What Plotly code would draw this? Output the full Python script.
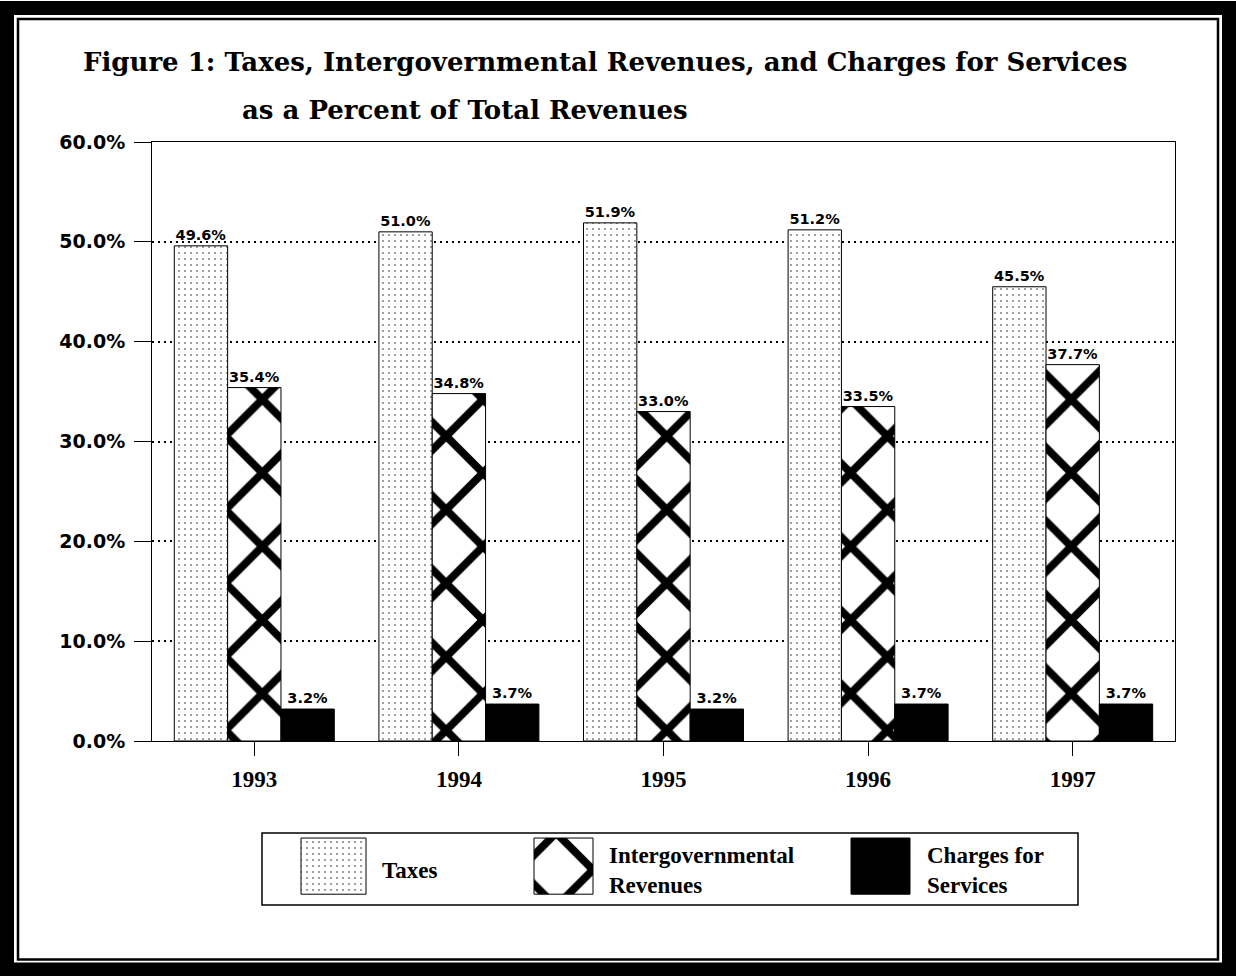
import plotly.graph_objects as go

W, H = 1236, 976

years = ["1993", "1994", "1995", "1996", "1997"]
taxes = [49.6, 51.0, 51.9, 51.2, 45.5]
intergov = [35.4, 34.8, 33.0, 33.5, 37.7]
charges = [3.2, 3.7, 3.2, 3.7, 3.7]
series_names = ["Taxes", "Intergovernmental<br>Revenues", "Charges for<br>Services"]
y_ticks = [0, 10, 20, 30, 40, 50, 60]
y_tick_text = [f"{v:.1f}%" for v in y_ticks]

def px(x):
    return x / W

def py(y):
    return 1 - y / H

patterns = [
    dict(shape=".", size=6, solidity=0.1, fgcolor="#888", bgcolor="white", fillmode="replace"),
    dict(shape="x", size=52, solidity=0.28, fgcolor="black", bgcolor="white", fillmode="replace"),
    dict(shape="", fgcolor="black", bgcolor="black"),
]
colors = ["white", "white", "black"]
label_font = dict(family="DejaVu Sans", size=14.5, color="black", weight="bold")

fig = go.Figure()
for vals, pat, col in zip([taxes, intergov, charges], patterns, colors):
    fig.add_trace(go.Bar(
        x=years, y=vals,
        marker=dict(color=col, pattern=pat, line=dict(color="black", width=1)),
        texttemplate="%{y:.1f}%", textposition="outside", textfont=label_font,
        constraintext="none", cliponaxis=False, showlegend=False,
        hoverinfo="skip",
    ))

# legend swatches (layout only) on a small hidden axis
sw_x = [333.5, 563.5, 880.5]
sw_w = [65, 59, 59]
for i in range(3):
    fig.add_trace(go.Bar(
        x=[sw_x[i]], y=[0.78], base=[0.15], width=[sw_w[i]],
        marker=dict(color=colors[i], pattern=patterns[i], line=dict(color="black", width=1)),
        xaxis="x2", yaxis="y2", showlegend=False, hoverinfo="skip",
    ))

fig.update_layout(
    width=W, height=H,
    margin=dict(l=0, r=0, t=0, b=0, pad=0, autoexpand=False),
    paper_bgcolor="white", plot_bgcolor="white",
    barmode="group", bargap=0.218, bargroupgap=0,
    xaxis=dict(
        domain=[px(152), px(1175)], automargin=False,
        showline=True, mirror=True, linecolor="black", linewidth=1,
        ticks="outside", ticklen=14, tickcolor="black", tickwidth=1,
        tickfont=dict(family="Liberation Serif", size=23, color="black", weight="bold"),
        ticklabelstandoff=3,
        showgrid=False, zeroline=False,
    ),
    yaxis=dict(
        domain=[py(741), py(142)], automargin=False,
        range=[0, 60], tickvals=y_ticks, ticktext=y_tick_text,
        showline=True, mirror=True, linecolor="black", linewidth=1,
        ticks="outside", ticklen=17, tickcolor="black", tickwidth=1,
        tickfont=dict(family="DejaVu Sans", size=19, color="black", weight="bold"),
        ticklabelstandoff=5,
        showgrid=True, gridcolor="black", gridwidth=1.5, griddash="2px,4px",
        zeroline=False,
    ),
    xaxis2=dict(domain=[px(262), px(1078)], range=[262, 1078], visible=False, anchor="y2",
                automargin=False),
    yaxis2=dict(domain=[py(905), py(833)], range=[0, 1], visible=False, anchor="x2",
                automargin=False),
)

shapes = [
    dict(type="rect", xref="paper", yref="paper", x0=px(7), x1=px(1229), y0=py(8), y1=py(969.5),
         line=dict(color="black", width=14), fillcolor="rgba(0,0,0,0)", layer="above"),
    dict(type="rect", xref="paper", yref="paper", x0=px(18), x1=px(1218), y0=py(19), y1=py(959.5),
         line=dict(color="black", width=2.5), fillcolor="rgba(0,0,0,0)", layer="above"),
    dict(type="rect", xref="paper", yref="paper", x0=px(262), x1=px(1078), y0=py(833), y1=py(905),
         line=dict(color="black", width=1.5), fillcolor="rgba(0,0,0,0)", layer="below"),
]
fig.update_layout(shapes=shapes)

title_font = dict(family="DejaVu Serif", size=26, color="black", weight="bold")
fig.add_annotation(text="Figure 1: Taxes, Intergovernmental Revenues, and Charges for Services",
                   xref="paper", yref="paper", x=px(605), y=py(62), xanchor="center", yanchor="middle",
                   showarrow=False, font=title_font)
fig.add_annotation(text="as a Percent of Total Revenues",
                   xref="paper", yref="paper", x=px(240), y=py(110), xanchor="left", yanchor="middle",
                   showarrow=False, font=title_font)

leg_font = dict(family="Liberation Serif", size=23, color="black", weight="bold")
leg_x = [380, 607, 925]
for name, lx in zip(series_names, leg_x):
    fig.add_annotation(text=name, xref="paper", yref="paper", x=px(lx), y=py(870),
                       xanchor="left", yanchor="middle", align="left", showarrow=False,
                       font=leg_font)

fig.write_html(
    "out.html",
    config={"responsive": False, "displayModeBar": False},
    post_script="document.body.style.margin='0px';document.body.style.overflow='hidden';",
)
